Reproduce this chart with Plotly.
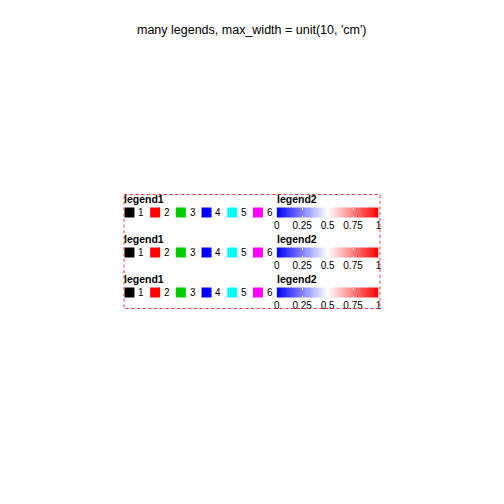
import plotly.graph_objects as go

# ---- data ----
plot_title = "many legends, max_width = unit(10, 'cm')"
legend_titles = ["legend1", "legend2"]
key_labels = ["1", "2", "3", "4", "5", "6"]
key_colors = ["#000000", "#FF0000", "#00CD00", "#0000FF", "#00FFFF", "#FF00FF"]
bar_ticks = [0, 0.25, 0.5, 0.75, 1]
bar_ticktext = ["0", "0.25", "0.5", "0.75", "1"]
bar_colors = [[0.0, "#0000FF"], [0.5, "#FFFFFF"], [1.0, "#FF0000"]]
n_copies = 3

# ---- layout constants (pixels) ----
W = H = 504
FONT = "Liberation Sans, Arial, Helvetica, sans-serif"
row_step = 40
title_y = 199
key_y = 212.5
key_x0 = 128
key_step = 26
bar_x0, bar_x1 = 277, 380
bar_top, bar_bot = 207.5, 217.5
box = dict(x0=122.5, x1=381.5, y0=194.5, y1=308.5)

fig = go.Figure()
annotations = []
shapes = []

layout_axes = {}
for r in range(n_copies):
    dy = r * row_step
    # legend titles
    for tx, tt in ((122, legend_titles[0]), (bar_x0, legend_titles[1])):
        annotations.append(dict(x=tx, y=title_y + dy, xref="x", yref="y", text="<b>%s</b>" % tt,
                                showarrow=False, xanchor="left", yanchor="middle", xshift=-2,
                                font=dict(family=FONT, size=10.5, color="black")))
    # keys
    xs = [key_x0 + i * key_step for i in range(len(key_labels))]
    fig.add_trace(go.Scatter(x=xs, y=[key_y + dy] * len(xs), mode="markers",
                             marker=dict(symbol="square", size=10, color=key_colors, line=dict(width=0)),
                             xaxis="x", yaxis="y", showlegend=False, hoverinfo="skip"))
    for i, lab in enumerate(key_labels):
        annotations.append(dict(x=xs[i] + 9, y=key_y + dy, xref="x", yref="y", text=lab,
                                showarrow=False, xanchor="left", yanchor="middle", xshift=-2,
                                font=dict(family=FONT, size=10, color="black")))
    # colour bar on its own axes
    k = r + 2
    n = 206
    zx = [i / (n - 1) for i in range(n)]
    fig.add_trace(go.Heatmap(x=zx, y=[0, 1], z=[zx, zx], colorscale=bar_colors, zmin=0, zmax=1,
                             showscale=False, hoverinfo="skip",
                             xaxis="x%d" % k, yaxis="y%d" % k))
    layout_axes["xaxis%d" % k] = dict(domain=[bar_x0 / W, bar_x1 / W], range=[0, 1], anchor="y%d" % k,
                                      tickvals=bar_ticks, ticktext=bar_ticktext, ticks="inside",
                                      ticklen=2, tickcolor="white", tickwidth=1, ticklabelstandoff=-2,
                                      showline=True, linecolor="rgba(0,0,0,0)", mirror="ticks",
                                      showgrid=False, zeroline=False, fixedrange=True,
                                      tickfont=dict(family=FONT, size=10, color="black"))
    layout_axes["yaxis%d" % k] = dict(domain=[1 - (bar_bot + dy) / H, 1 - (bar_top + dy) / H],
                                      range=[0, 1], anchor="x%d" % k, visible=False, fixedrange=True)

shapes.append(dict(type="rect", xref="x", yref="y",
                   line=dict(color="rgba(255,0,0,0.8)", width=1, dash="3px,2.7px"),
                   fillcolor="rgba(0,0,0,0)", layer="above", **box))

annotations.append(dict(x=252, y=30, xref="x", yref="y", text=plot_title, showarrow=False,
                        xanchor="center", yanchor="middle",
                        font=dict(family=FONT, size=12.5, color="black")))

fig.update_layout(
    width=W, height=H, margin=dict(l=0, r=0, t=0, b=0),
    paper_bgcolor="white", plot_bgcolor="rgba(0,0,0,0)",
    xaxis=dict(range=[0, W], domain=[0, 1], visible=False, fixedrange=True, anchor="y"),
    yaxis=dict(range=[H, 0], domain=[0, 1], visible=False, fixedrange=True, anchor="x"),
    annotations=annotations, shapes=shapes, showlegend=False,
    **layout_axes,
)

fig.write_html("out.html", include_plotlyjs=True, config={"displayModeBar": False})
